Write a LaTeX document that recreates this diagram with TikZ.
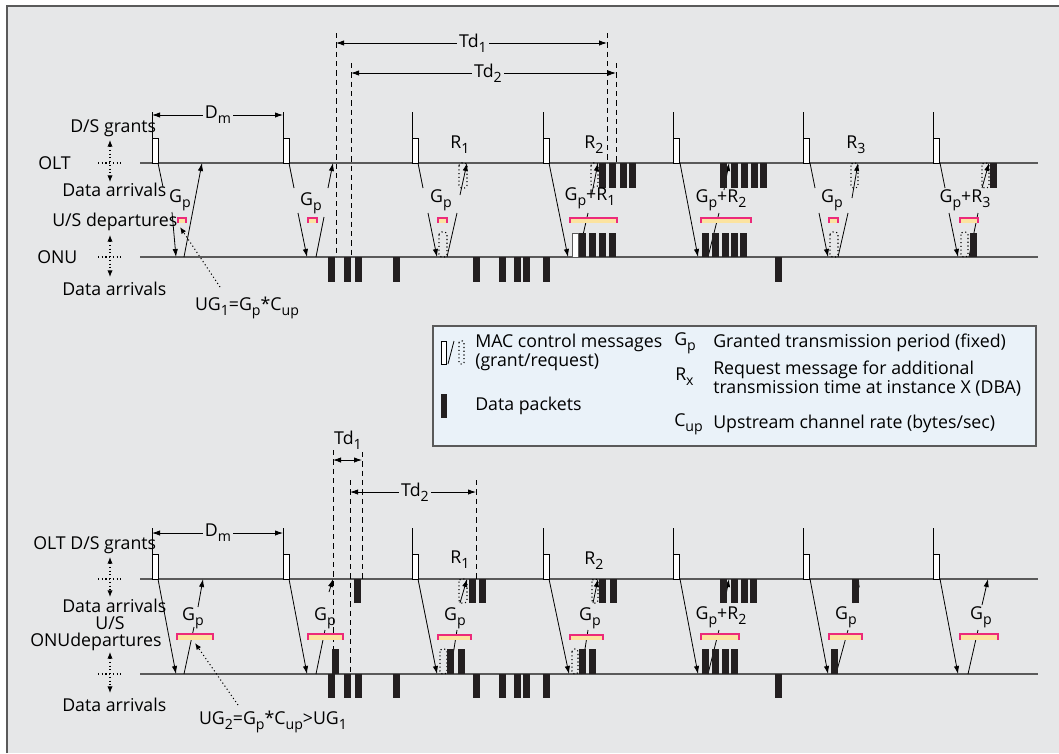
\documentclass[tikz,border=0pt]{standalone}
\usepackage{fontspec}
\setmainfont{Open Sans}
\usetikzlibrary{arrows.meta,calc}
\definecolor{bgc}{HTML}{E6E7E8}
\definecolor{legc}{HTML}{EAF2F9}
\definecolor{linec}{HTML}{5A5A5A}
\definecolor{pinkc}{HTML}{EC2A7A}
\definecolor{yelc}{HTML}{FCE3A0}
\definecolor{pktc}{HTML}{231F20}
\newcommand\lo[1]{\raisebox{-0.5ex}{\fontsize{10.6}{10.6}\selectfont #1}}
\newcommand\pk[3]{\fill[pktc] (#1,#2) rectangle ({#1+7},#3);}
\newcommand\gbar[4]{\fill[yelc] (#1,#2) rectangle (#3,#4);\draw[pinkc,line width=0.9pt] (#1,#4) -- (#1,#2) -- (#3,#2) -- (#3,#4);}
\begin{document}
\begin{tikzpicture}[x=0.75pt,y=-0.75pt,
  font=\fontsize{13.3}{15}\selectfont,
  tl/.style={draw=linec,line width=1.3pt},
  arr/.style={-{Latex[length=6pt,width=4pt]},line width=0.6pt},
  arrb/.style={{Latex[length=6pt,width=4pt]}-{Latex[length=6pt,width=4pt]},line width=0.6pt},
  seg/.style={line width=0.6pt},
  grantbox/.style={draw=black,fill=white,line width=0.6pt},
  reqbox/.style={draw=black,dotted,line width=0.8pt,rounded corners=2pt},
  dline/.style={line width=0.6pt,dash pattern=on 4pt off 3pt},
  dotarr/.style={dotted,line width=0.8pt,{Latex[length=5pt,width=4pt]}-{Latex[length=5pt,width=4pt]}},
  dotl/.style={dotted,line width=0.8pt},
  lbl/.style={inner sep=0pt},
  lblf/.style={inner sep=1.5pt,fill=bgc},
]
\useasboundingbox (0,0) rectangle (1059,753);
\fill[white] (0,0) rectangle (1059,753);
\fill[bgc] (7,6) rectangle (1059,753);
\draw[draw=linec,line width=1pt] (7,753) -- (7,6) -- (1059,6);

%%%%%%%%%%%%%%%% TOP DIAGRAM %%%%%%%%%%%%%%%%
\node[lbl,anchor=west] (tds) at (70,128) {D/S grants};
\node[lbl,anchor=west] (tolt) at (38,163) {OLT};
\node[lbl,anchor=west] (tda1) at (62,190) {Data arrivals};
\node[lbl,anchor=west] (tusd) at (52,222) {U/S departures};
\node[lbl,anchor=west] (tonu) at (37,257) {ONU};
\node[lbl,anchor=west] (tda2) at (62,289) {Data arrivals};
\draw[dotarr] (110,140) -- (110,182);
\draw[dotl] (98,163) -- (122,163);
\draw[dotarr] (110,235) -- (110,277);
\draw[dotl] (98,257) -- (122,257);

\draw[tl] (140,163) -- (1038,163);
\draw[tl] (140,257) -- (1038,257);

\foreach \g in {152,283,412,543,673,803,933} {
  \draw[seg] (\g,112) -- (\g,138);
  \draw[grantbox] (\g,138) rectangle (\g+6,163);
}
\draw[arrb] (152,115) -- (283,115);
\node[lblf] (tdm) at (218,115) {D\lo{m}};

% Td lines
\draw[dline] (336,33) -- (336,257);
\draw[dline] (351,63) -- (351,257);
\draw[dline] (607,33) -- (607,163);
\draw[dline] (616,63) -- (616,163);
\draw[arrb] (336,43) -- (607,43);
\node[lblf] (ttd1) at (473,43) {Td\lo{1}};
\draw[arrb] (351,73) -- (616,73);
\node[lblf] (ttd2) at (488,73) {Td\lo{2}};

% cycle 1
\draw[seg] (158,163) -- (163,187);
\draw[arr] (172,212) -- (176,257);
\draw[arr] (184,257) -- (202,163);
\gbar{178}{218}{186}{223}
\node[lbl] (tg1) at (180,200) {G\lo{p}};
\draw[dotl,-{Latex[length=5pt,width=4pt]}] (220,287) -- (180,227);
\node[lbl] (tug) at (247,308) {UG\lo{1}=G\lo{p}*C\lo{up}};

% cycle 2
\draw[seg] (289,163) -- (294,188);
\draw[arr] (298,213) -- (307,257);
\draw[seg] (316,257) -- (324,217);
\draw[arr] (328,188) -- (333,163);
\gbar{308}{218}{317}{223}
\node[lbl] (tg2) at (311,203) {G\lo{p}};

% cycle 3
\draw[seg] (418,163) -- (423,188);
\draw[arr] (428,213) -- (437,257);
\draw[reqbox] (439,232) rectangle (447,257);
\draw[reqbox] (459,163) rectangle (467,188);
\draw[seg] (447,257) -- (457,213);
\draw[arr] (460,195) -- (467,163);
\gbar{438}{218}{447}{223}
\node[lbl] (tg3) at (441,200) {G\lo{p}};
\node[lbl] (tr1) at (460,145) {R\lo{1}};

% cycle 4
\draw[arr] (549,163) -- (568,257);
\draw[seg] (578,257) -- (588,213);
\draw[arr] (592,193) -- (598,163);
\draw[draw=linec,fill=white,line width=0.6pt] (572,233) rectangle (578,257);
\foreach \b in {579,589,599,609} {\pk{\b}{233}{257}}
\draw[reqbox] (591,163) rectangle (598,187);
\foreach \b in {599,609,620,629} {\pk{\b}{163}{188}}
\gbar{570}{218}{617}{223}
\node[lbl] (tg4) at (590,198) {G\lo{p}+R\lo{1}};
\node[lbl] (tr2) at (594,145) {R\lo{2}};

% cycle 5
\draw[arr] (680,163) -- (698,257);
\draw[seg] (708,257) -- (719,213);
\draw[arr] (724,190) -- (729,163);
\foreach \b in {702,712,722,731,740} {\pk{\b}{233}{257}}
\foreach \b in {720,731,741,751,760} {\pk{\b}{163}{188}}
\gbar{701}{218}{751}{223}
\node[lbl] (tg5) at (721,200) {G\lo{p}+R\lo{2}};

% cycle 6
\draw[seg] (810,163) -- (815,188);
\draw[arr] (819,213) -- (828,257);
\draw[reqbox] (830,232) rectangle (838,257);
\draw[reqbox] (851,163) rectangle (858,188);
\draw[seg] (838,257) -- (848,213);
\draw[arr] (852,198) -- (858,163);
\gbar{829}{218}{838}{223}
\node[lbl] (tg6) at (832,200) {G\lo{p}};
\node[lbl] (tr3) at (856,145) {R\lo{3}};

% cycle 7
\draw[seg] (940,163) -- (945,188);
\draw[arr] (949,213) -- (958,257);
\draw[reqbox] (961,232) rectangle (968,257);
\draw[reqbox] (982,163) rectangle (989,188);
\draw[seg] (969,257) -- (978,213);
\draw[arr] (982,188) -- (989,163);
\pk{970}{233}{257}
\pk{990}{163}{188}
\gbar{960}{218}{978}{223}
\node[lbl] (tg7) at (965,200) {G\lo{p}+R\lo{3}};

% ONU data arrivals
\foreach \b in {328,344,355,393,473,499,514,523,543,775} {\pk{\b}{257}{282}}

%%%%%%%%%%%%%%%% LEGEND %%%%%%%%%%%%%%%%
\draw[fill=legc,draw=linec,line width=0.8pt] (433,326) rectangle (1036,446);
\draw[draw=black,fill=white,line width=0.6pt] (441,341) rectangle (446,364);
\draw[seg] (448,364) -- (454,341);
\draw[reqbox,rounded corners=1pt] (459,341) rectangle (464,364);
\fill[pktc] (441,394) rectangle (447,418);
\node[lbl,anchor=west] (l1) at (475,343) {MAC control messages};
\node[lbl,anchor=west] (l2) at (475,362) {(grant/request)};
\node[lbl,anchor=west] (l3) at (475,406) {Data packets};
\node[lbl,anchor=west] (l4) at (674,343) {G\lo{p}};
\node[lbl,anchor=west] (l5) at (713,343) {Granted transmission period (fixed)};
\node[lbl,anchor=west] (l6) at (675,377) {R\lo{x}};
\node[lbl,anchor=west] (l7) at (713,370) {Request message for additional};
\node[lbl,anchor=west] (l8) at (713,388) {transmission time at instance X (DBA)};
\node[lbl,anchor=west] (l9) at (674,424) {C\lo{up}};
\node[lbl,anchor=west] (l10) at (713,424) {Upstream channel rate (bytes/sec)};

%%%%%%%%%%%%%%%% BOTTOM DIAGRAM %%%%%%%%%%%%%%%%
\node[lbl,anchor=west] (bds) at (33,545) {OLT D/S grants};
\node[lbl,anchor=west] (bda1) at (62,606) {Data arrivals};
\node[lbl] (bus) at (110,623) {U/S};
\node[lbl,anchor=west] (bonu) at (30,642) {ONUdepartures};
\node[lbl,anchor=west] (bda2) at (62,705) {Data arrivals};
\draw[dotarr] (110,557) -- (110,597);
\draw[dotl] (98,579) -- (122,579);
\draw[dotarr] (110,652) -- (110,693);
\draw[dotl] (98,674) -- (122,674);

\draw[tl] (140,579) -- (1038,579);
\draw[tl] (140,674) -- (1038,674);

\foreach \g in {152,283,412,543,673,803,933} {
  \draw[seg] (\g,528) -- (\g,554);
  \draw[grantbox] (\g,554) rectangle (\g+6,579);
}
\draw[arrb] (152,533) -- (283,533);
\node[lblf] (bdm) at (218,533) {D\lo{m}};

\draw[dline] (333,450) -- (333,674);
\draw[dline] (350,480) -- (350,674);
\draw[dline] (362,452) -- (362,579);
\draw[dline] (476,480) -- (476,579);
\draw[arrb] (333,460) -- (362,460);
\node[lbl] (btd1) at (348,440) {Td\lo{1}};
\draw[arrb] (350,492) -- (476,492);
\node[lblf] (btd2) at (415,492) {Td\lo{2}};

% cycle 1
\draw[arr] (158,579) -- (176,674);
\draw[seg] (184,674) -- (194,627);
\draw[arr] (198,607) -- (203,579);
\gbar{177}{634}{213}{640}
\node[lbl] (bg1) at (193,618) {G\lo{p}};
\draw[dotl,-{Latex[length=5pt,width=4pt]}] (238,705) -- (195,643);
\node[lbl] (bug) at (273,722) {UG\lo{2}=G\lo{p}*C\lo{up}>UG\lo{1}};

% cycle 2
\draw[arr] (289,579) -- (307,674);
\draw[seg] (316,674) -- (325,630);
\draw[arr] (329,592) -- (333,579);
\gbar{308}{634}{343}{640}
\node[lbl] (bg2) at (325,618) {G\lo{p}};
\pk{332}{649}{674}
\pk{354}{579}{603}

% cycle 3
\draw[arr] (418,579) -- (437,674);
\draw[reqbox] (440,649) rectangle (447,674);
\draw[reqbox] (459,579) rectangle (467,603);
\draw[seg] (450,674) -- (457,630);
\draw[arr] (460,603) -- (467,579);
\pk{447}{649}{674}
\pk{458}{649}{674}
\pk{469}{579}{603}
\pk{479}{579}{603}
\gbar{438}{635}{471}{640}
\node[lbl] (bg3) at (455,618) {G\lo{p}};
\node[lbl] (br1) at (460,560) {R\lo{1}};

% cycle 4
\draw[arr] (549,579) -- (569,674);
\draw[reqbox] (572,649) rectangle (578,674);
\draw[reqbox] (592,579) rectangle (598,603);
\draw[seg] (581,674) -- (588,630);
\draw[arr] (593,603) -- (598,579);
\pk{579}{649}{674}
\pk{589}{649}{674}
\pk{599}{579}{603}
\pk{610}{579}{603}
\gbar{570}{635}{603}{640}
\node[lbl] (bg4) at (590,618) {G\lo{p}};
\node[lbl] (br2) at (594,561) {R\lo{2}};

% cycle 5
\draw[arr] (680,579) -- (698,674);
\draw[seg] (708,674) -- (719,630);
\draw[arr] (725,600) -- (729,579);
\foreach \b in {702,712,722,731} {\pk{\b}{649}{674}}
\foreach \b in {720,731,741,750} {\pk{\b}{579}{603}}
\gbar{701}{634}{739}{640}
\node[lbl] (bg5) at (721,617) {G\lo{p}+R\lo{2}};

% cycle 6
\draw[arr] (810,579) -- (828,674);
\draw[seg] (836,674) -- (848,630);
\draw[arr] (853,603) -- (859,579);
\pk{831}{649}{674}
\pk{852}{579}{603}
\gbar{829}{634}{862}{640}
\node[lbl] (bg6) at (846,617) {G\lo{p}};

% cycle 7
\draw[arr] (940,579) -- (958,674);
\draw[seg] (968,674) -- (978,630);
\draw[arr] (982,605) -- (988,579);
\gbar{960}{634}{998}{640}
\node[lbl] (bg7) at (981,617) {G\lo{p}};

\foreach \b in {328,344,355,393,473,499,514,523,543,775} {\pk{\b}{674}{698}}
\end{tikzpicture}
\end{document}
